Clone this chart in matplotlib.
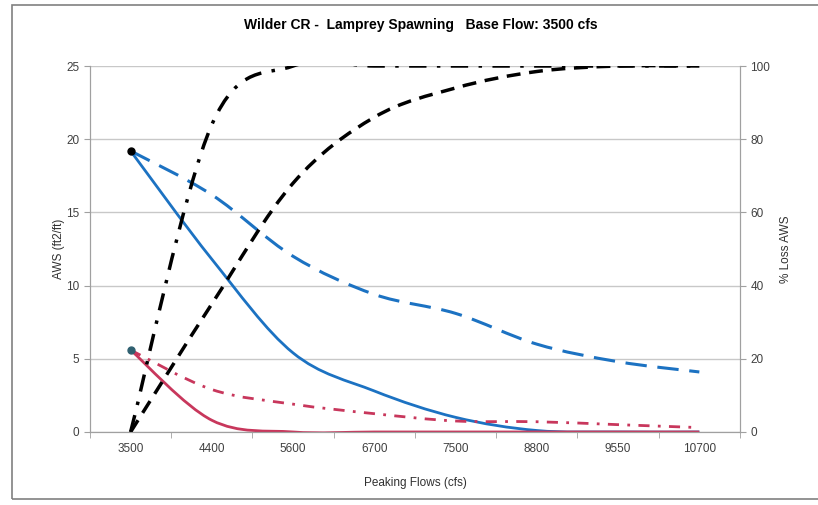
import matplotlib
matplotlib.use("Agg")
import matplotlib.pyplot as plt
import numpy as np
from matplotlib.path import Path
from matplotlib.patches import PathPatch, Rectangle

plt.rcParams['font.family'] = ['Liberation Sans', 'DejaVu Sans']

flows = ["3500", "4400", "5600", "6700", "7500", "8800", "9550", "10700"]

# AWS (ft2/ft), left axis
aws_blue_solid = [19.2, 11.8, 5.4, 2.8, 1.0, 0.1, 0.0, 0.0]
aws_blue_dash = [19.2, 16.2, 12.0, 9.4, 8.1, 6.0, 4.8, 4.1]
aws_red_solid = [5.6, 0.8, 0.0, 0.0, 0.0, 0.0, 0.0, 0.0]
aws_red_dashdot = [5.6, 2.9, 1.9, 1.25, 0.75, 0.7, 0.5, 0.3]

# % loss AWS, right axis
loss_dashdot = [0, 84, 100, 100, 100, 100, 100, 100]
loss_dash = [0, 35, 68, 86, 94, 98.5, 100, 100]

BLUE = "#1c72c2"
RED = "#c8375c"


def smooth_path(xs, ys):
    # Excel-like smoothed line drawn as cubic Bezier segments
    pts = np.column_stack([xs, ys]).astype(float)
    n = len(pts)
    verts = [pts[0]]
    codes = [Path.MOVETO]
    for i in range(n - 1):
        p0 = pts[i - 1] if i > 0 else pts[i]
        p1 = pts[i]
        p2 = pts[i + 1]
        p3 = pts[i + 2] if i + 2 < n else pts[i + 1]
        c1 = p1 + (p2 - p0) / 6.0
        c2 = p2 - (p3 - p1) / 6.0
        verts += [c1, c2, p2]
        codes += [Path.CURVE4] * 3
    return Path(verts, codes)


def add_curve(ax, ys, color, lw, ls):
    xs = np.arange(len(ys))
    patch = PathPatch(smooth_path(xs, ys), fill=False, edgecolor=color,
                      linewidth=lw, linestyle=ls, capstyle='butt')
    ax.add_patch(patch)


fig = plt.figure(figsize=(8.18, 5.05), dpi=100)
ax = fig.add_axes([0.110, 0.1446, 0.7946, 0.7247])
ax2 = ax.twinx()

x = np.arange(len(flows))
ax.set_xlim(-0.5, len(flows) - 0.5)
ax.set_ylim(0, 25)
ax2.set_ylim(0, 100)
ax.set_yticks(np.arange(0, 26, 5))
ax2.set_yticks(np.arange(0, 101, 20))
ax.set_xticks(x)
ax.set_xticklabels(flows)
ax.set_xticks(np.arange(-0.5, len(flows), 1), minor=True)

ax.grid(axis='y', color='#c8c8c8', linewidth=1)
ax.set_axisbelow(True)
for a in (ax, ax2):
    for s in a.spines.values():
        s.set_color('#a0a0a0')
    a.spines['top'].set_visible(False)
ax.tick_params(axis='x', which='major', length=0, labelsize=8.5, colors='#404040', pad=8)
ax.tick_params(axis='x', which='minor', length=4, color='#a0a0a0')
ax.tick_params(axis='y', length=4, color='#a0a0a0', labelsize=8.5, labelcolor='#404040')
ax2.tick_params(axis='y', length=4, color='#a0a0a0', labelsize=8.5, labelcolor='#404040')

add_curve(ax, aws_blue_dash, BLUE, 2.2, (0, (7, 3.5)))
add_curve(ax, aws_blue_solid, BLUE, 2.0, '-')
add_curve(ax, aws_red_dashdot, RED, 2.0, (0, (4, 3, 1, 3)))
add_curve(ax, aws_red_solid, RED, 2.0, '-')
ax.plot(x[0], aws_blue_solid[0], 'o', color='black', markersize=5, zorder=5)
ax.plot(x[0], aws_red_solid[0], 'o', color='#2f6070', markersize=5, zorder=5)

add_curve(ax2, loss_dashdot, 'black', 2.5, (0, (5, 3, 1, 3)))
add_curve(ax2, loss_dash, 'black', 2.5, (0, (4, 2.5)))

ax.set_ylabel("AWS (ft2/ft)", fontsize=8.5, color='#303030', labelpad=1)
ax2.set_ylabel("% Loss AWS", fontsize=8.5, color='#303030', labelpad=7)
ax.set_xlabel("Peaking Flows (cfs)", fontsize=8.5, color='#303030', labelpad=16)
fig.text(0.515, 0.95, "Wilder CR -  Lamprey Spawning   Base Flow: 3500 cfs",
         ha='center', va='center', fontsize=10, fontweight='bold')

fig.patches.append(Rectangle((0.015, 0.012), 1.0, 0.978, transform=fig.transFigure,
                             fill=False, edgecolor='#808080', linewidth=1.2))

fig.savefig("out.png", dpi=100)
